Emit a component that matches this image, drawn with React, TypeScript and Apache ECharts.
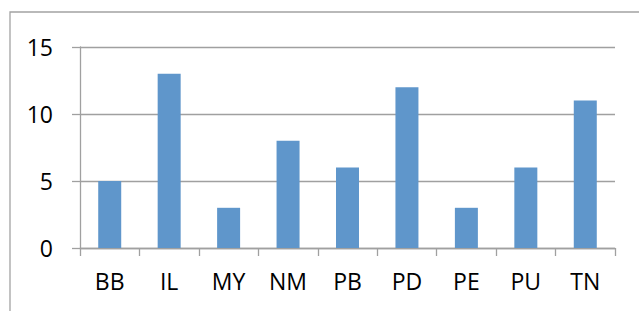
import React, { useEffect, useRef } from "react";
import * as echarts from "echarts";

const categories = ["BB", "IL", "MY", "NM", "PB", "PD", "PE", "PU", "TN"];
const values = [5, 13, 3, 8, 6, 12, 3, 6, 11];
const yMin = 0;
const yMax = 15;
const yInterval = 5;

export default function App() {
  const ref = useRef<HTMLDivElement>(null);
  useEffect(() => {
    if (!ref.current) return;
    const chart = echarts.init(ref.current, undefined, { renderer: "svg" });
    const axisColor = "#a0a0a0";
    const font = "Open Sans";
    chart.setOption({
      animation: false,
      backgroundColor: "#ffffff",
      textStyle: { fontFamily: font },
      graphic: [
        {
          type: "rect",
          shape: { x: 10, y: 12, width: 700, height: 400 },
          style: { fill: "none", stroke: "#a3a3a3", lineWidth: 1.3 },
          silent: true,
        },
      ],
      grid: { left: 80, right: 24, top: 47, bottom: 63, containLabel: false },
      xAxis: {
        type: "category",
        data: categories,
        axisLine: { show: true, lineStyle: { color: axisColor, width: 1.3 } },
        axisTick: { show: true, length: 8, interval: 0, alignWithLabel: false, lineStyle: { color: axisColor, width: 1.3 } },
        axisLabel: { color: "#000", fontSize: 23, fontFamily: font, margin: 21, interval: 0 },
        splitLine: { show: false },
      },
      yAxis: {
        type: "value",
        min: yMin,
        max: yMax,
        interval: yInterval,
        axisLine: { show: true, lineStyle: { color: axisColor, width: 1.3 } },
        axisTick: { show: true, length: 8, inside: false, lineStyle: { color: axisColor, width: 1.3 } },
        axisLabel: { color: "#000", fontSize: 23, fontFamily: font, margin: 27 },
        splitLine: { show: true, lineStyle: { color: axisColor, width: 1.3 } },
      },
      series: [
        {
          type: "bar",
          data: values,
          barWidth: 23,
          itemStyle: { color: "#5f96cb" },
        },
      ],
    });
    return () => chart.dispose();
  }, []);
  return (
    <div
      ref={ref}
      style={{ position: "fixed", left: 0, top: 0, width: 639, height: 311 }}
    />
  );
}
